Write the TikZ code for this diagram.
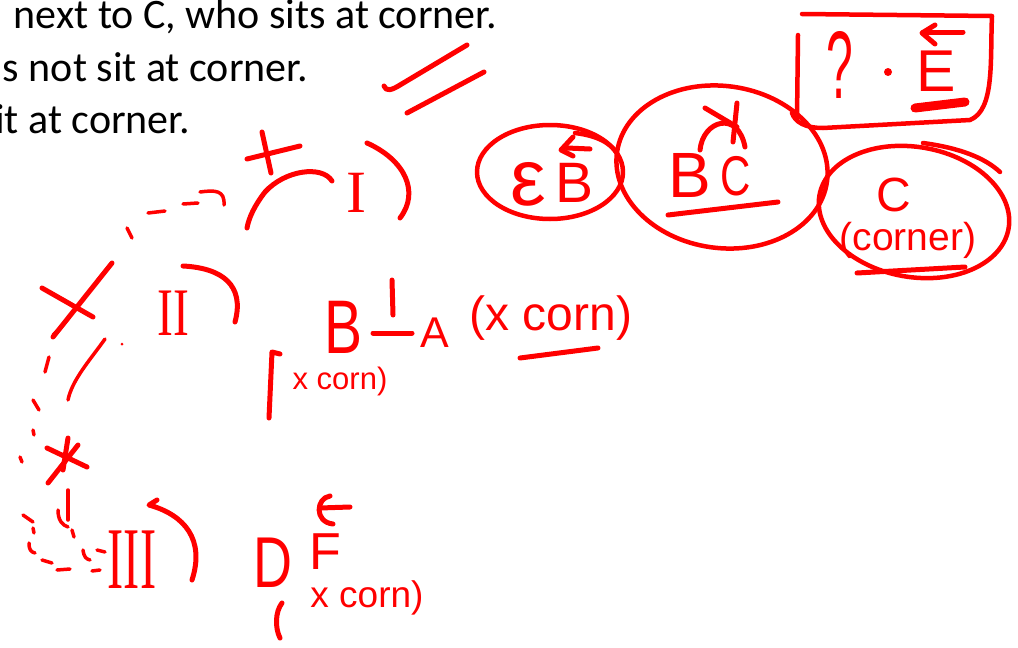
\documentclass[tikz,border=0pt]{standalone}
\usepackage{fontspec}
\setmainfont{Carlito}
\newfontfamily\hand{Liberation Sans}
\newfontfamily\handserif{Liberation Serif}
\newcommand\fs[1]{\fontsize{#1}{#1}\selectfont}
\begin{document}
\begin{tikzpicture}[x=1pt,y=-1pt,
  pen/.style={draw=red, line width=5pt, line cap=round, line join=round},
  thinpen/.style={pen, line width=3.5pt},
  hw/.style={text=red, inner sep=0pt, font=\hand},
  hs/.style={text=red, inner sep=0pt, font=\handserif},
  txt/.style={inner sep=0pt, anchor=base east, font=\fs{42}}]
\useasboundingbox (0,0) rectangle (1018,648);

% printed text
\node[txt] (t1) at (497,28) {next to C, who sits at corner.};
\node[txt] (t2) at (308,81) {s not sit at corner.};
\node[txt] (t3) at (190,133) {it at corner.};

% double check marks
\draw[pen] (384,86) .. controls (386,92) and (392,90) .. (400,85) -- (467,45);
\draw[pen] (407,113) -- (484,72);

% group I
\draw[pen] (262,132) -- (271,173);
\draw[pen] (247,159) -- (300,146);
\draw[pen] (332,181) .. controls (322,165) and (285,170) .. (265,192) .. controls (255,205) and (249,217) .. (247,228);
\node[hs] (r1) at (356,193) {\fs{60}I};
\draw[pen] (367,143) .. controls (405,160) and (420,192) .. (400,218);

% dashed path
\draw[thinpen] (127,228) -- (132,238);
\draw[thinpen] (148,213) -- (165,211);
\draw[thinpen] (183,204) -- (198,203);
\draw[thinpen] (200,192) .. controls (215,190) and (225,190) .. (224,205);
\draw[thinpen] (58,330) -- (53,335);
\draw[thinpen] (49,357) -- (45,372);
\draw[thinpen] (33,400) -- (39,410);
\draw[thinpen] (33,430) -- (34,435);
\draw[thinpen] (20,457) -- (22,462);
\draw[thinpen] (68,490) -- (68,520);
\draw[thinpen] (58,510) .. controls (58,520) and (62,525) .. (68,527);
\draw[thinpen] (72,530) -- (74,537);
\draw[thinpen] (23,515) -- (33,522);
\draw[thinpen] (33,528) -- (34,533);
\draw[thinpen] (29,543) .. controls (29,550) and (31,552) .. (35,553);
\draw[thinpen] (42,560) -- (52,563);
\draw[thinpen] (57,570) -- (70,569);
\draw[thinpen] (83,550) .. controls (84,557) and (86,559) .. (90,560);
\draw[thinpen] (97,550) -- (105,552);
\draw[thinpen] (92,571) -- (100,570);

% group II
\draw[pen] (42,288) -- (93,317);
\draw[pen] (112,263) -- (53,337);
\node[hs] (r2) at (173,313) {\fs{68}\scalebox{0.7}[1]{II}};
\draw[pen] (183,266) .. controls (222,268) and (245,285) .. (235,322);
\draw[thinpen] (105,339) .. controls (90,360) and (72,380) .. (68,400);
\fill[red] (122,344) circle (1.5);
\draw[pen] (47,448) -- (87,467);
\draw[pen] (78,445) -- (48,483);
\draw[pen] (68,438) -- (63,470);

% B - A (x corn)
\node[hw] (b2) at (344,327) {\fs{76}\scalebox{0.75}[1]{B}};
\draw[pen] (392,280) -- (393,315);
\draw[pen] (373,333) -- (412,333);
\node[hw] (a2) at (435,333) {\fs{43}A};
\node[hw] (xc1) at (551,318) {\fs{48}(x corn)};
\draw[pen] (520,358) -- (598,348);
\draw[pen] (280,354) -- (272,352) -- (269,418);
\node[hw] (xc2) at (340,381) {\fs{31}x corn)};

% group III
\node[hs] (r3) at (132,560) {\fs{88}\scalebox{0.55}[1]{III}};
\draw[pen] (157,500) -- (149,505) .. controls (185,515) and (205,540) .. (192,580);
\node[hw] (d3) at (273,563) {\fs{72}\scalebox{0.75}[1]{D}};
\node[hw] (f3) at (325,552) {\fs{52}F};
\draw[pen] (330,496) .. controls (316,498) and (314,522) .. (333,524);
\draw[pen] (320,508) -- (350,507);
\draw[pen] (282,603) .. controls (275,612) and (275,628) .. (280,638);
\node[hw] (xc3) at (367,598) {\fs{37}x corn)};

% E B ellipse
\draw[pen, line width=4.5pt] (550,172) ellipse [x radius=73, y radius=47];
\draw[pen, line width=4.5pt] (575,133) .. controls (600,136) and (615,145) .. (620,160);
\node[hw] (e1) at (528,184) {\fs{80}ε};
\node[hw] (b1) at (575,183) {\fs{57}B};
\draw[pen] (573,137) -- (561,150) -- (573,156);
\draw[pen] (567,148) -- (590,149);

% B C ellipse
\draw[pen, line width=4.5pt, rotate around={-8:(722,167)}] (722,167) ellipse [x radius=106, y radius=81];
\node[hw] (b0) at (690,175) {\fs{64}B};
\node[hw] (c0) at (736,176) {\fs{56}\scalebox{0.75}[1]{C}};
\draw[pen] (700,150) .. controls (703,120) and (738,110) .. (745,147);
\draw[pen] (705,108) -- (737,127);
\draw[pen] (737,103) -- (733,142);
\draw[pen] (668,215) -- (778,202);

% ? . E box
\draw[pen, line width=4.5pt] (802,14) -- (992,16) .. controls (990,60) and (995,110) .. (970,120) -- (823,128) .. controls (805,128) and (795,122) .. (792,113);
\draw[pen, line width=4.5pt] (798,35) -- (797,118);
\node[hw] (q) at (840,65) {\fs{96}\scalebox{0.5}[1]{?}};
\fill[red] (888,72) circle (4);
\node[hw] (e0) at (936,71) {\fs{59}E};
\draw[pen] (963,32) -- (923,32);
\draw[pen] (935,25) -- (922,33) -- (935,44);
\draw[pen, line width=9pt] (915,108) -- (965,102);

% C (corner) ellipse
\draw[pen, line width=4.5pt, rotate around={-10:(914,212)}] (914,212) ellipse [x radius=96, y radius=65];
\draw[pen, line width=4.5pt] (923,143) .. controls (960,148) and (985,158) .. (1000,172);
\node[hw] (c9) at (894,195) {\fs{48}C};
\node[hw] (crn) at (908,240) {\fs{39}(corner)};
\draw[pen] (857,273) -- (965,267);
\end{tikzpicture}
\end{document}
